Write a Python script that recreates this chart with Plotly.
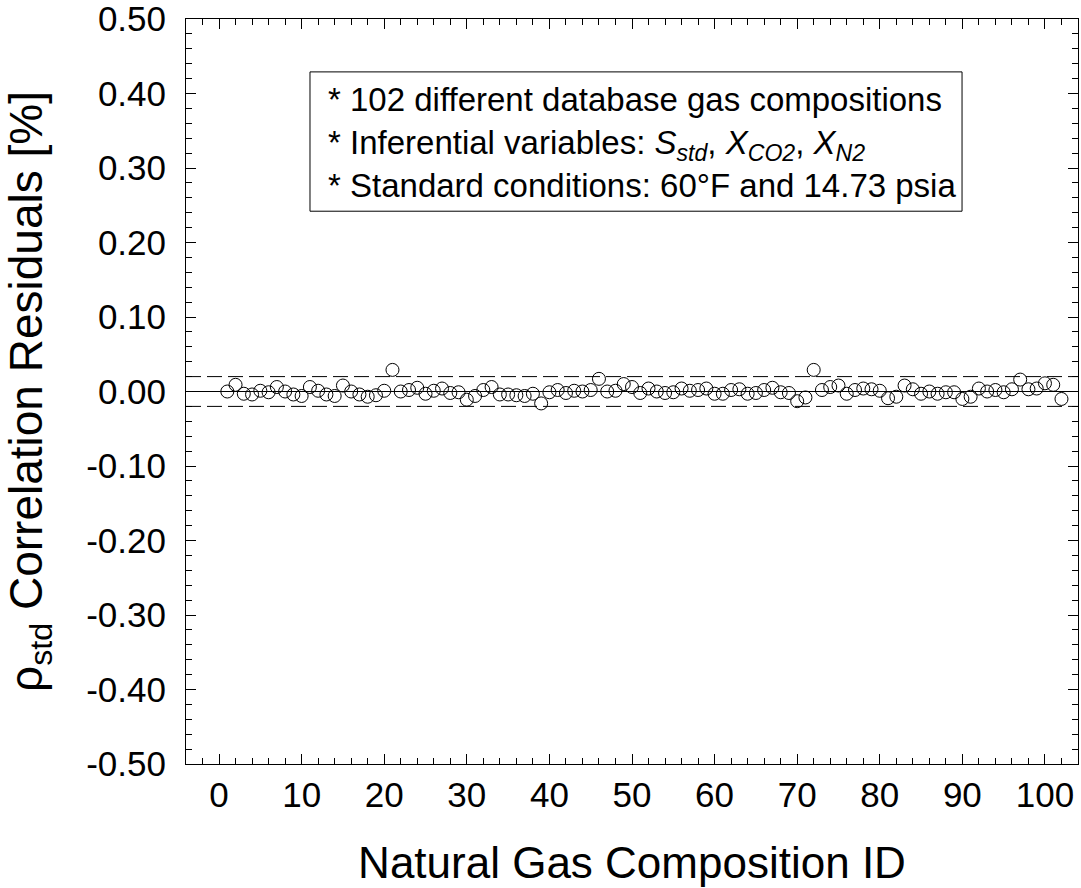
import plotly.graph_objects as go

ids = list(range(1, 103))
residuals = [
    0.000, 0.009, -0.003, -0.004, 0.001, -0.001, 0.006, 0.000, -0.004, -0.006,
    0.006, 0.001, -0.004, -0.006, 0.008, 0.000, -0.004, -0.007, -0.005, 0.001,
    0.029, 0.000, 0.002, 0.005, -0.003, 0.001, 0.004, -0.002, -0.001, -0.011,
    -0.006, 0.002, 0.006, -0.004, -0.004, -0.005, -0.006, -0.003, -0.016, -0.001,
    0.002, -0.002, 0.001, 0.000, 0.002, 0.017, 0.000, 0.001, 0.010, 0.006,
    -0.002, 0.004, 0.000, -0.002, -0.001, 0.004, 0.001, 0.002, 0.004, -0.003,
    -0.003, 0.002, 0.003, -0.003, -0.002, 0.002, 0.005, -0.001, -0.002, -0.013,
    -0.008, 0.029, 0.002, 0.006, 0.008, -0.003, 0.002, 0.004, 0.003, 0.001,
    -0.009, -0.007, 0.008, 0.003, -0.003, 0.000, -0.003, -0.001, -0.001, -0.010,
    -0.007, 0.004, 0.000, 0.002, -0.001, 0.003, 0.016, 0.003, 0.004, 0.011,
    0.009, -0.010,
]
zero_line = [0.0]
band_lines = [0.02, -0.02]
x_ticks = [0, 10, 20, 30, 40, 50, 60, 70, 80, 90, 100]
y_ticks = [-0.5, -0.4, -0.3, -0.2, -0.1, 0.0, 0.1, 0.2, 0.3, 0.4, 0.5]
y_tick_labels = ["-0.50", "-0.40", "-0.30", "-0.20", "-0.10", "0.00",
                 "0.10", "0.20", "0.30", "0.40", "0.50"]

FONT = "Liberation Sans, Arial, sans-serif"

fig = go.Figure()
fig.add_trace(go.Scatter(
    x=ids, y=residuals, mode="markers",
    marker=dict(symbol="circle-open", size=13, color="black", line=dict(width=1, color="black")),
    showlegend=False,
))

shapes = []
for v in zero_line:
    shapes.append(dict(type="line", xref="paper", yref="y", x0=0, x1=1, y0=v, y1=v,
                       line=dict(color="black", width=1), layer="below"))
for v in band_lines:
    shapes.append(dict(type="line", xref="paper", yref="y", x0=0, x1=1, y0=v, y1=v,
                       line=dict(color="black", width=1, dash="15px,6px"), layer="below"))
# note box
shapes.append(dict(type="rect", xref="paper", yref="paper", x0=0.139, x1=0.870, y0=0.742, y1=0.929,
                   line=dict(color="black", width=1), fillcolor="white", layer="below"))

fig.update_layout(
    width=1081, height=888,
    margin=dict(l=186, r=3, t=19, b=124),
    paper_bgcolor="white", plot_bgcolor="white",
    font=dict(family=FONT, color="black", size=35),
    shapes=shapes,
    annotations=[dict(
        xref="paper", yref="paper", x=0.157, y=0.834, xanchor="left", yanchor="middle",
        align="left", showarrow=False,
        text=("* 102 different database gas compositions<br>"
              "* Inferential variables: <i>S<sub>std</sub></i>, <i>X<sub>CO2</sub></i>, <i>X<sub>N2</sub></i><br>"
              "* Standard conditions: 60°F and 14.73 psia"),
        font=dict(size=33, family=FONT, color="black"),
    )],
)

fig.update_xaxes(
    range=[-4, 104], tickvals=x_ticks, ticks="inside", ticklen=10, tickwidth=1,
    tickcolor="black", mirror="allticks", showline=True, linecolor="black", linewidth=1,
    showgrid=False, zeroline=False, tickfont=dict(size=35), ticklabelstandoff=0,
    automargin=False, ticklabeloverflow="allow",
    minor=dict(dtick=2, ticks="inside", ticklen=6, tickcolor="black", showgrid=False),
    title=dict(text="Natural Gas Composition ID", font=dict(size=44), standoff=34),
)
fig.update_yaxes(
    range=[-0.5, 0.5], tickvals=y_ticks, ticktext=y_tick_labels, ticks="inside", ticklen=10,
    tickwidth=1, tickcolor="black", mirror="allticks", showline=True, linecolor="black",
    linewidth=1, showgrid=False, zeroline=False, tickfont=dict(size=35), ticklabelstandoff=12,
    automargin=False, ticklabeloverflow="allow",
    minor=dict(dtick=0.02, tick0=0, ticks="inside", ticklen=6, tickcolor="black", showgrid=False),
    title=dict(text="ρ<sub>std</sub> Correlation Residuals [%]", font=dict(size=46), standoff=32),
)

fig.write_html("out.html", config={"displayModeBar": False},
               post_script="document.body.style.margin='0';")
